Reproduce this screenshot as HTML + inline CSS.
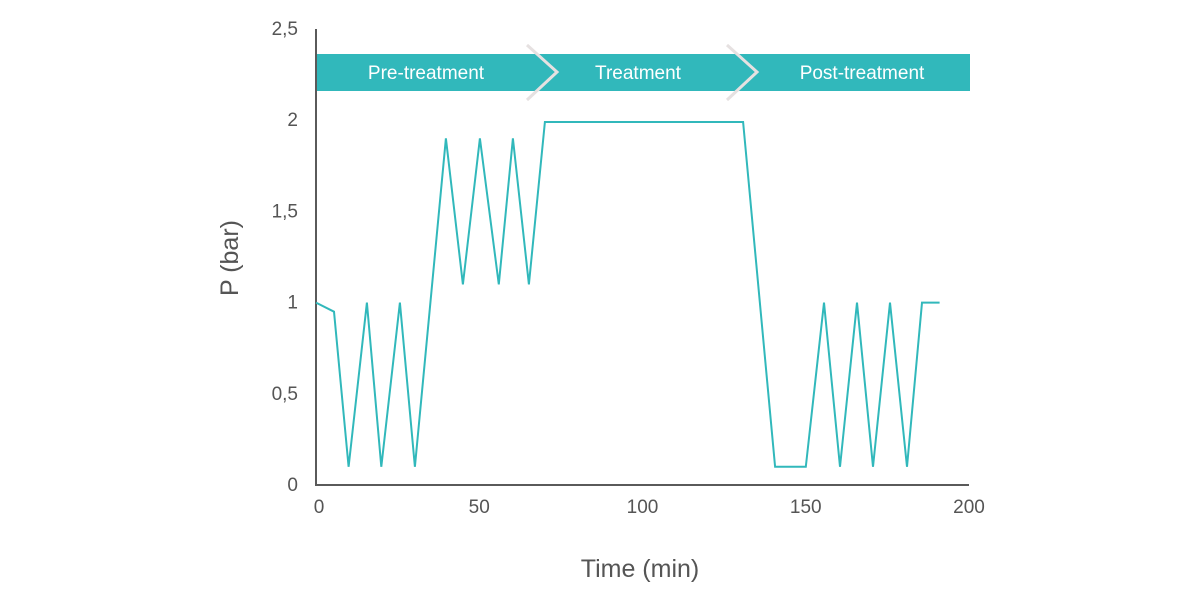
<!DOCTYPE html>
<html><head><meta charset="utf-8">
<style>
html,body{margin:0;padding:0;background:#fff;}
svg{display:block;font-family:"Liberation Sans",sans-serif;}
</style></head>
<body>
<svg id="chart" width="1200" height="600" viewBox="0 0 1200 600">
  <g id="banner">
    <rect x="316" y="54" width="654" height="37" fill="#31b8bb"/>
    <text x="426" y="79" font-size="19" fill="#fff" text-anchor="middle">Pre-treatment</text>
    <text x="638" y="79" font-size="19" fill="#fff" text-anchor="middle">Treatment</text>
    <text x="862" y="79" font-size="19" fill="#fff" text-anchor="middle">Post-treatment</text>
    <polyline points="527,45 557,72 527,100" fill="none" stroke="#e6e1e1" stroke-width="3"/>
    <polyline points="727,45 757,72 727,100" fill="none" stroke="#e6e1e1" stroke-width="3"/>
  </g>
  <g id="axes"></g>
  <g id="series"></g>
  <text x="640" y="577" font-size="25" fill="#555" text-anchor="middle">Time (min)</text>
  <text transform="translate(238,258) rotate(-90)" font-size="25" fill="#555" text-anchor="middle">P (bar)</text>
</svg>
<script>
const timeMin = [0,5.5,10,15.6,20,25.7,30.3,39.8,45,50.2,56,60.3,65.2,70.1,130.8,140.6,150,155.6,160.5,165.7,170.6,175.8,181,185.6,191];
const pressureBar = [1,0.95,0.1,1,0.1,1,0.1,1.9,1.1,1.9,1.1,1.9,1.1,1.99,1.99,0.1,0.1,1,0.1,1,0.1,1,0.1,1,1];
const xTicks = [0,50,100,150,200];
const xTickLabels = ["0","50","100","150","200"];
const yTicks = [0,0.5,1,1.5,2,2.5];
const yTickLabels = ["0","0,5","1","1,5","2","2,5"];

const X0=316,X1=969,Y0=485,Y1=29;
const xs=v=>X0+(v-0)/(200-0)*(X1-X0);
const ys=v=>Y0-(v-0)/(2.5-0)*(Y0-Y1);
const NS="http://www.w3.org/2000/svg";
const axes=document.getElementById('axes');
function mk(tag,attrs,parent){const e=document.createElementNS(NS,tag);for(const k in attrs)e.setAttribute(k,attrs[k]);parent.appendChild(e);return e;}

const yAxis=mk('line',{x1:X0,y1:Y1,x2:X0,y2:Y0,stroke:'#5a5a5a','stroke-width':2},axes);


const xAxis=mk('line',{x1:X0-1,y1:Y0,x2:X1,y2:Y0,stroke:'#5a5a5a','stroke-width':2},axes);



xTicks.forEach((t,i)=>{
  const tx=mk('text',{x:xs(t)+(i===0?3:0),y:513,'font-size':19,fill:'#555','text-anchor':'middle'},axes);
  tx.textContent=xTickLabels[i];
  
  
});
yTicks.forEach((t,i)=>{
  const tx=mk('text',{x:298,y:ys(t)+6,'font-size':19,fill:'#555','text-anchor':'end'},axes);
  tx.textContent=yTickLabels[i];
  
  
});

const pts=timeMin.map((t,i)=>xs(t).toFixed(1)+','+ys(pressureBar[i]).toFixed(1)).join(' ');
const line=mk('polyline',{points:pts,fill:'none',stroke:'#31b8bb','stroke-width':2,'stroke-linejoin':'miter'},document.getElementById('series'));


</script>
</body></html>
